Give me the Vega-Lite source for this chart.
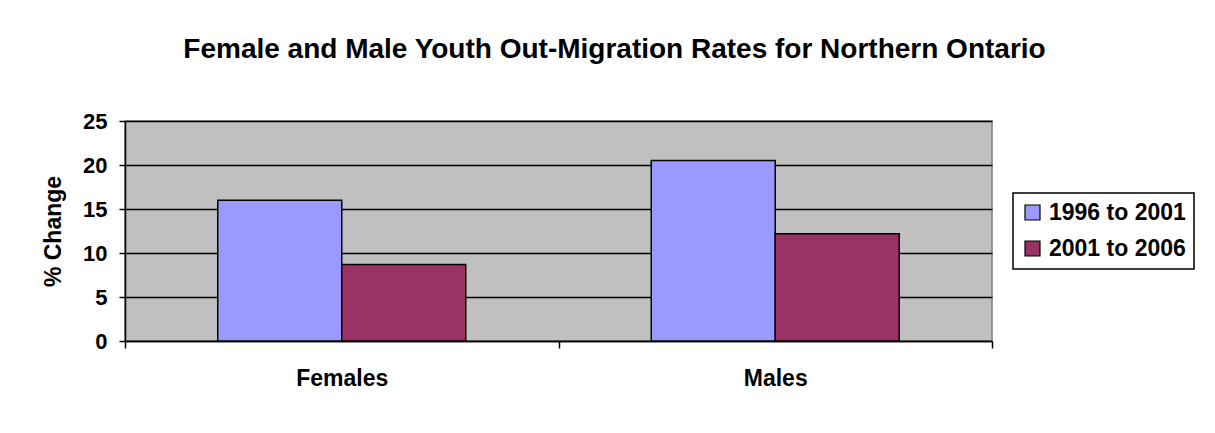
{
  "$schema": "https://vega.github.io/schema/vega-lite/v6.json",
  "autosize": {"type": "none"},
  "width": 867,
  "height": 220,
  "padding": {"left": 125, "top": 121, "right": 223, "bottom": 92},
  "background": "white",
  "title": {
    "text": "Female and Male Youth Out-Migration Rates for Northern Ontario",
    "font": "Liberation Sans",
    "fontSize": 28,
    "fontWeight": "bold",
    "color": "black",
    "anchor": "middle",
    "dx": 56,
    "offset": 46
  },
  "data": {
    "values": [
      {"sex": "Females", "period": "1996 to 2001", "value": 16.0},
      {"sex": "Females", "period": "2001 to 2006", "value": 8.7},
      {"sex": "Males", "period": "1996 to 2001", "value": 20.5},
      {"sex": "Males", "period": "2001 to 2006", "value": 12.2}
    ]
  },
  "mark": {"type": "bar", "stroke": "black", "strokeWidth": 1.5},
  "encoding": {
    "x": {
      "field": "sex",
      "type": "nominal",
      "scale": {"paddingInner": 0, "paddingOuter": 0},
      "axis": {
        "title": null,
        "labelAngle": 0,
        "labelFont": "Liberation Sans",
        "labelFontSize": 23,
        "labelFontWeight": "bold",
        "labelColor": "black",
        "labelPadding": 19,
        "domainColor": "black",
        "domainWidth": 1.5,
        "tickColor": "black",
        "tickWidth": 1.5,
        "tickSize": 7,
        "tickBand": "extent",
        "grid": false
      }
    },
    "xOffset": {"field": "period", "type": "nominal", "scale": {"paddingInner": 0, "paddingOuter": 0.748}},
    "y": {
      "field": "value",
      "type": "quantitative",
      "scale": {"domain": [0, 25], "nice": false},
      "axis": {
        "title": "% Change",
        "titleFont": "Liberation Sans",
        "titleFontSize": 23,
        "titleFontWeight": "bold",
        "titleColor": "black",
        "titlePadding": 17,
        "values": [0, 5, 10, 15, 20, 25],
        "labelFont": "Liberation Sans",
        "labelFontSize": 22,
        "labelFontWeight": "bold",
        "labelColor": "black",
        "labelPadding": 12,
        "domainColor": "black",
        "domainWidth": 1.5,
        "tickColor": "black",
        "tickWidth": 1.5,
        "tickSize": 6,
        "grid": true,
        "gridColor": "black",
        "gridWidth": 1.5
      }
    },
    "color": {
      "field": "period",
      "type": "nominal",
      "scale": {"domain": ["1996 to 2001", "2001 to 2006"], "range": ["#9999FF", "#993366"]},
      "legend": {
        "title": null,
        "orient": "none",
        "legendX": 888,
        "legendY": 72,
        "direction": "vertical",
        "symbolType": "square",
        "symbolSize": 225,
        "symbolStrokeColor": "black",
        "symbolStrokeWidth": 1.2,
        "symbolOpacity": 1,
        "labelFont": "Liberation Sans",
        "labelFontSize": 23,
        "labelFontWeight": "bold",
        "labelColor": "black",
        "labelOffset": 5,
        "rowPadding": 12,
        "padding": 8,
        "strokeColor": "black",
        "fillColor": "white"
      }
    }
  },
  "config": {
    "view": {"fill": "#C0C0C0", "stroke": "#808080", "strokeWidth": 1.5},
    "legend": {"strokeWidth": 1.5}
  }
}
